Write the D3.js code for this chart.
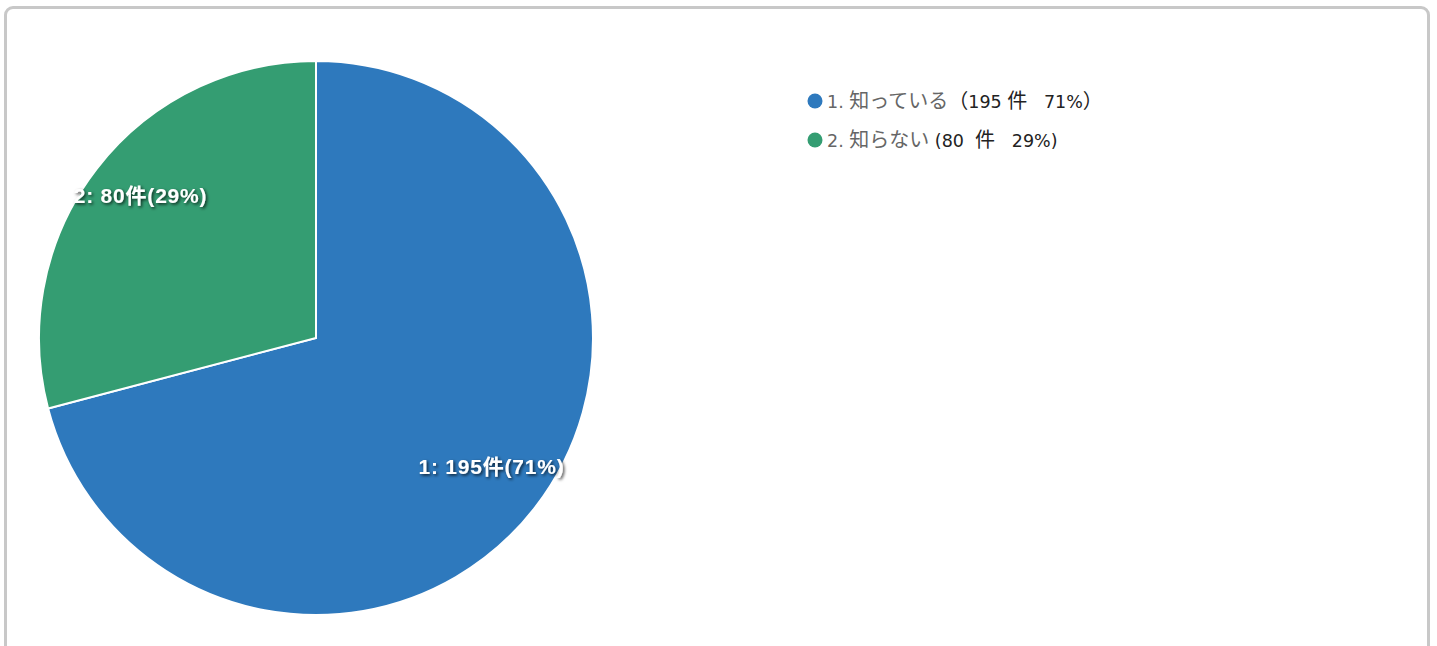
<!DOCTYPE html>
<html>
<head>
<meta charset="utf-8">
<script src="https://cdn.jsdelivr.net/npm/d3@7"></script>
<style>
  body { margin: 0; background: #fff; overflow: hidden; }
  .panel {
    position: absolute; left: 4px; top: 6px; width: 1426px; height: 660px;
    border: 3px solid #c8c8c8; border-radius: 9px; box-sizing: border-box;
  }
  svg { position: absolute; left: 0; top: 0; }
</style>
</head>
<body>
<div class="panel"></div>
<div id="chart"></div>
<script>
const labels = ["知っている", "知らない"];
const counts = [195, 80];
const percents = [71, 29];
const colors = ["#2e79bd", "#349d72"];

const width = 1437, height = 646;
const cx = 316, cy = 338, radius = 277;

const svg = d3.select("#chart").append("svg")
  .attr("width", width)
  .attr("height", height);

const defs = svg.append("defs");
const shadow = defs.append("filter").attr("id", "shadow")
  .attr("x", "-10%").attr("y", "-30%").attr("width", "130%").attr("height", "170%");
shadow.append("feDropShadow")
  .attr("dx", 1.5).attr("dy", 1.5).attr("stdDeviation", 1.5)
  .attr("flood-color", "#000").attr("flood-opacity", 0.75);

const data = labels.map((l, i) => ({ label: l, count: counts[i], pct: percents[i], color: colors[i], idx: i + 1 }));

const pie = d3.pie().sort(null).value(d => d.count);
const arc = d3.arc().innerRadius(0).outerRadius(radius);
const labelArc = d3.arc().innerRadius(radius * 0.8).outerRadius(radius * 0.8);

const g = svg.append("g").attr("transform", `translate(${cx},${cy})`);

g.selectAll("path")
  .data(pie(data))
  .join("path")
  .attr("d", arc)
  .attr("fill", d => d.data.color)
  .attr("stroke", "#fff")
  .attr("stroke-width", 2);

g.selectAll("text.slice")
  .data(pie(data))
  .join("text")
  .attr("class", "slice")
  .attr("transform", d => `translate(${labelArc.centroid(d)})`)
  .attr("text-anchor", "middle")
  .attr("dy", "0.3em")
  .attr("y", -6)
  .attr("fill", "#fff")
  .attr("font-family", "'Liberation Sans', Arial, 'Noto Sans CJK JP', sans-serif")
  .attr("font-weight", "bold")
  .attr("font-size", 21)
  .attr("letter-spacing", 0.8)
  .attr("filter", "url(#shadow)")
  .text(d => `${d.data.idx}: ${d.data.count}件(${d.data.pct}%)`);

// legend
const latin = "'DejaVu Sans', sans-serif";
const cjk = "'Noto Sans CJK JP', sans-serif";

function legendParts(d) {
  const first = d.idx === 1;
  return [
    { t: `${d.idx}. `, f: latin, c: "#666", s: 17.5 },
    { t: d.label, f: cjk, c: "#666", s: 20 },
    first
      ? { t: "（", f: cjk, c: "#222", s: 20 }
      : { t: " (", f: latin, c: "#222", s: 17.5 },
    { t: first ? `${d.count} ` : `${d.count}  `, f: latin, c: "#222", s: 17.5 },
    { t: "件", f: cjk, c: "#222", s: 20 },
    { t: `   ${d.pct}%`, f: latin, c: "#222", s: 17.5 },
    first
      ? { t: "）", f: cjk, c: "#222", s: 20 }
      : { t: ")", f: latin, c: "#222", s: 17.5 }
  ];
}

const legend = svg.append("g").attr("transform", "translate(815,101)");
const item = legend.selectAll("g")
  .data(data)
  .join("g")
  .attr("transform", (d, i) => `translate(0,${i * 39})`);

item.append("circle")
  .attr("r", 7.5)
  .attr("fill", d => d.color);

item.append("text")
  .attr("x", 12)
  .attr("y", 6.5)
  .attr("xml:space", "preserve")
  .selectAll("tspan")
  .data(d => legendParts(d))
  .join("tspan")
  .attr("font-family", p => p.f)
  .attr("font-size", p => p.s)
  .attr("fill", p => p.c)
  .text(p => p.t);
</script>
</body>
</html>
